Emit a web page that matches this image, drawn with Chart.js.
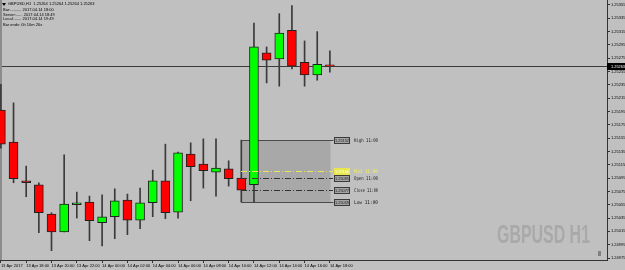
<!DOCTYPE html>
<html>
<head>
<meta charset="utf-8">
<script src="https://cdn.jsdelivr.net/npm/chart.js@4.4.1/dist/chart.umd.min.js"></script>
<style>
  html, body { margin: 0; padding: 0; background: #c0c0c0; }
  #wrap { width: 625px; height: 270px; }
</style>
</head>
<body>
<div id="wrap"><canvas id="chart" width="625" height="270"></canvas></div>
<script>
// GBPUSD H1, 13 Apr 16:00 .. 14 Apr 18:00
const openPrices  = [1.25197, 1.25149, 1.25091, 1.25085, 1.25041, 1.25014, 1.25055, 1.25059, 1.25028, 1.25037, 1.25062, 1.25032, 1.25058, 1.25091,
                     1.25044, 1.25131, 1.25116, 1.25104, 1.25109, 1.25095, 1.25085, 1.25283, 1.25274, 1.25317, 1.25269, 1.25250, 1.25265];
const highPrices  = [1.25236, 1.25208, 1.25113, 1.25088, 1.25043, 1.25130, 1.25074, 1.25068, 1.25070, 1.25079, 1.25071, 1.25080, 1.25107, 1.25146,
                     1.25134, 1.25148, 1.25154, 1.25154, 1.25121, 1.25152, 1.25328, 1.25292, 1.25342, 1.25354, 1.25301, 1.25315, 1.25286];
const lowPrices   = [1.25140, 1.25088, 1.25067, 1.25013, 1.24986, 1.25014, 1.25035, 1.25001, 1.24993, 1.25004, 1.25010, 1.25019, 1.25037, 1.25034,
                     1.25035, 1.25061, 1.25080, 1.25068, 1.25083, 1.25059, 1.25059, 1.25238, 1.25233, 1.25259, 1.25233, 1.25242, 1.25254];
const closePrices = [1.25146, 1.25094, 1.25088, 1.25043, 1.25014, 1.25056, 1.25058, 1.25031, 1.25037, 1.25061, 1.25032, 1.25058, 1.25091, 1.25043,
                     1.25133, 1.25112, 1.25106, 1.25110, 1.25094, 1.25077, 1.25292, 1.25272, 1.25313, 1.25263, 1.25250, 1.25266, 1.25263];

const xTickIndex  = [0, 2, 4, 6, 8, 10, 12, 14, 16, 18, 20, 22, 24, 26];
const xTickLabels = ['13 Apr 2017', '13 Apr 18:00', '13 Apr 20:00', '13 Apr 22:00', '14 Apr 00:00', '14 Apr 02:00', '14 Apr 04:00',
                     '14 Apr 06:00', '14 Apr 08:00', '14 Apr 10:00', '14 Apr 12:00', '14 Apr 14:00', '14 Apr 16:00', '14 Apr 18:00'];
const yTickValues = [1.24975, 1.24995, 1.25015, 1.25035, 1.25055, 1.25075, 1.25095, 1.25115, 1.25135, 1.25155,
                     1.25175, 1.25195, 1.25215, 1.25235, 1.25255, 1.25275, 1.25295, 1.25315, 1.25335, 1.25355];

const currentPrice = 1.25263;

// 11:00 bar range box
const rangeStartIndex = 19;
const rangeEndIndex = 26;
const rangeNames  = ['High 11:00', 'Mid 11:00', 'Open 11:00', 'Close 11:00', 'Low 11:00'];
const rangeValues = [1.25152, 1.25106, 1.25095, 1.25077, 1.25059];

const infoLines = [
  'GBPUSD,H1  1.25264 1.25264 1.25264 1.25263',
  'Bar:.......... 2017.04.14 18:00',
  'Server:...... 2017.04.14 18:49',
  'Local:....... 2017.04.14 19:49',
  'Bar ends: 0h 10m 26s'
];

const BULL = '#00ff00';
const BEAR = '#ff0000';
const SMALL_FONT = '"Liberation Sans"';

const bodyData = openPrices.map((o, i) => ({ x: i, y: [o, closePrices[i]] }));
const wickData = lowPrices.map((l, i) => ({ x: i, y: [l, highPrices[i]] }));
const bodyColors = openPrices.map((o, i) => closePrices[i] >= o ? BULL : BEAR);

const noPadding = function (scale) {
  scale.paddingTop = 0;
  scale.paddingBottom = 0;
  scale.paddingLeft = 0;
  scale.paddingRight = 0;
};

const overlayPlugin = {
  id: 'overlay',
  beforeDraw(chart) {
    const ctx = chart.ctx;
    ctx.save();
    ctx.fillStyle = '#c0c0c0';
    ctx.fillRect(0, 0, chart.width, chart.height);
    ctx.restore();
  },
  beforeDatasetsDraw(chart) {
    const ctx = chart.ctx;
    const xs = chart.scales.x, ys = chart.scales.y;
    const area = chart.chartArea;
    ctx.save();

    // watermark
    ctx.fillStyle = '#a9a9a9';
    ctx.font = 'bold 25px "Liberation Sans"';
    ctx.textBaseline = 'alphabetic';
    ctx.textAlign = 'left';
    ctx.fillText('GBPUSD H1', 497, 243, 93);

    // range box
    const x0 = Math.round(xs.getPixelForValue(rangeStartIndex)) + 0.5;
    const x1 = Math.round(xs.getPixelForValue(rangeEndIndex)) + 0.5;
    const yH = Math.round(ys.getPixelForValue(rangeValues[0])) + 0.5;
    const yL = Math.round(ys.getPixelForValue(rangeValues[4])) + 0.5;
    ctx.fillStyle = '#a8a8a8';
    ctx.fillRect(x0, yH, x1 - x0, yL - yH);
    ctx.strokeStyle = '#4a4a4a';
    ctx.lineWidth = 1;
    ctx.beginPath();
    ctx.moveTo(x0, yH); ctx.lineTo(x1 + 3, yH);
    ctx.moveTo(x0, yH); ctx.lineTo(x0, yL);
    ctx.moveTo(x0, yL); ctx.lineTo(x1 + 3, yL);
    ctx.stroke();

    // current price line
    const yc = Math.round(ys.getPixelForValue(currentPrice)) + 0.5;
    ctx.strokeStyle = '#3c3c3c';
    ctx.beginPath();
    ctx.moveTo(area.left, yc); ctx.lineTo(area.right, yc);
    ctx.stroke();

    // left border
    ctx.strokeStyle = '#8c8c8c';
    ctx.lineWidth = 2;
    ctx.beginPath();
    ctx.moveTo(area.left + 1, area.top); ctx.lineTo(area.left + 1, area.bottom);
    ctx.stroke();
    ctx.restore();
  },
  afterDatasetsDraw(chart) {
    const ctx = chart.ctx;
    const xs = chart.scales.x, ys = chart.scales.y;
    const x0 = Math.round(xs.getPixelForValue(rangeStartIndex));
    const x1 = Math.round(xs.getPixelForValue(rangeEndIndex));
    ctx.save();
    ctx.lineWidth = 1;
    // dash-dot lines for mid, open, close
    for (let k = 1; k <= 3; k++) {
      const y = Math.round(ys.getPixelForValue(rangeValues[k])) + 0.5;
      ctx.strokeStyle = k === 1 ? '#e6e65a' : '#333333';
      ctx.setLineDash([6, 2, 1, 2]);
      ctx.beginPath();
      ctx.moveTo(x0, y); ctx.lineTo(x1 + 3, y);
      ctx.stroke();
    }
    ctx.setLineDash([]);

    // price boxes and names
    ctx.textBaseline = 'middle';
    for (let k = 0; k < rangeValues.length; k++) {
      const y = Math.round(ys.getPixelForValue(rangeValues[k]));
      const mid = k === 1;
      ctx.fillStyle = mid ? '#e8e84c' : '#a4a4a4';
      ctx.fillRect(334, y - 3, 16, 7);
      ctx.strokeStyle = mid ? '#e8e84c' : '#3a3a3a';
      ctx.strokeRect(334.5, y - 2.5, 15, 6);
      ctx.fillStyle = mid ? '#ffffff' : '#1a1a1a';
      ctx.font = '4px ' + SMALL_FONT;
      ctx.textAlign = 'center';
      ctx.fillText(rangeValues[k].toFixed(5), 342, y + 0.5, 14);
      ctx.fillStyle = mid ? '#f0f050' : '#1a1a1a';
      ctx.font = '5px "DejaVu Sans Mono"';
      ctx.textAlign = 'left';
      ctx.fillText(rangeNames[k], 354, y + 0.5, 24);
    }
    ctx.restore();
  },
  afterDraw(chart) {
    const ctx = chart.ctx;
    const ys = chart.scales.y;
    const area = chart.chartArea;
    ctx.save();
    // current price tag on axis
    const yc = Math.round(ys.getPixelForValue(currentPrice));
    ctx.fillStyle = '#000000';
    ctx.fillRect(area.right, yc - 3, chart.width - area.right, 7);
    ctx.fillStyle = '#ffffff';
    ctx.font = '4px ' + SMALL_FONT;
    ctx.textBaseline = 'middle';
    ctx.textAlign = 'left';
    ctx.fillText(currentPrice.toFixed(5), area.right + 4, yc + 0.5, 14);

    // info block top-left
    ctx.fillStyle = '#000000';
    ctx.font = '4px ' + SMALL_FONT;
    ctx.textBaseline = 'middle';
    const rows = [4, 10, 14.5, 19, 24.5];
    ctx.beginPath();
    ctx.moveTo(2, 3); ctx.lineTo(6, 3); ctx.lineTo(4, 6); ctx.closePath();
    ctx.fill();
    infoLines.forEach((t, i) => {
      ctx.fillText(t, i === 0 ? 8 : 3, rows[i]);
    });

    // small scroll icon bottom-right
    ctx.fillStyle = '#808080';
    ctx.fillRect(598, 251, 3, 5);
    ctx.restore();
  }
};

new Chart(document.getElementById('chart'), {
  type: 'bar',
  data: {
    datasets: [
      {
        label: 'body',
        data: bodyData,
        backgroundColor: bodyColors,
        borderColor: '#202020',
        borderWidth: 1,
        borderSkipped: false,
        barThickness: 9,
        grouped: false
      },
      {
        label: 'wick',
        data: wickData,
        backgroundColor: '#3a3a3a',
        borderWidth: 0,
        barThickness: 1,
        grouped: false
      }
    ]
  },
  options: {
    responsive: false,
    animation: false,
    devicePixelRatio: 1,
    layout: { padding: 0 },
    plugins: {
      legend: { display: false },
      tooltip: { enabled: false }
    },
    scales: {
      x: {
        type: 'linear',
        offset: false,
        min: -0.07,
        max: 47.9,
        afterFit(scale) { scale.height = 10; noPadding(scale); },
        afterBuildTicks(scale) { scale.ticks = xTickIndex.map(v => ({ value: v })); },
        grid: { display: true, offset: false, drawOnChartArea: false, drawTicks: true, tickLength: 3, color: '#333333' },
        border: { display: true, color: '#333333' },
        ticks: {
          autoSkip: false,
          maxRotation: 0,
          align: 'start',
          padding: 0,
          color: '#000000',
          font: { family: 'Liberation Sans', size: 4 },
          callback: (v, i) => xTickLabels[i]
        }
      },
      y: {
        position: 'right',
        min: 1.24972,
        max: 1.253625,
        afterFit(scale) { scale.width = 18; noPadding(scale); },
        afterBuildTicks(scale) { scale.ticks = yTickValues.map(v => ({ value: v })); },
        grid: { display: true, drawOnChartArea: false, drawTicks: true, tickLength: 3, color: '#333333' },
        border: { display: true, color: '#333333' },
        ticks: {
          padding: 1,
          color: '#000000',
          font: { family: 'Liberation Sans', size: 4 },
          callback: v => v.toFixed(5)
        }
      }
    }
  },
  plugins: [overlayPlugin]
});
</script>
</body>
</html>
